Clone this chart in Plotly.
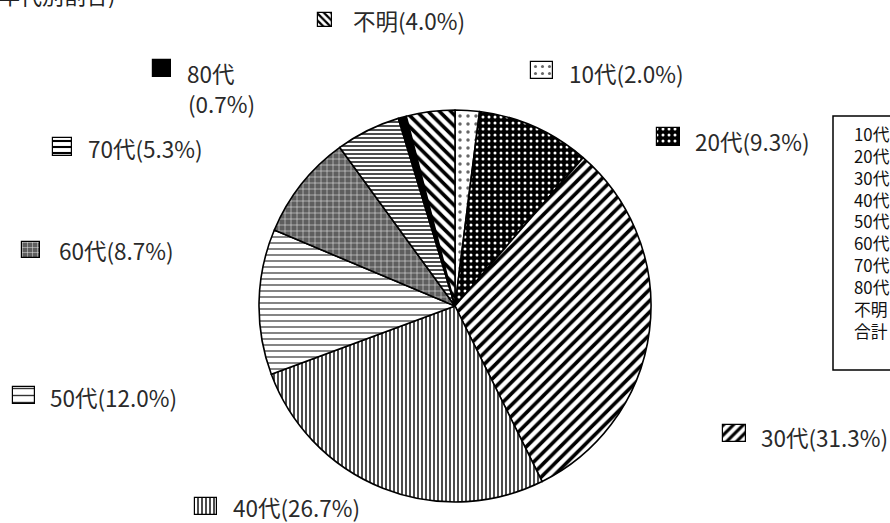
import plotly.graph_objects as go

W, H = 890, 523

# ---- data ----
categories = ["10代", "20代", "30代", "40代", "50代", "60代", "70代", "80代", "不明"]
counts = [3, 14, 47, 40, 18, 13, 8, 1, 6]
total = sum(counts)
percents = [c / total * 100 for c in counts]
table_rows = ["10代", "20代", "30代", "40代", "50代", "60代", "70代", "80代", "不明", "合計"]
title_text = "年代別割合)"

# ---- styles (per slice) ----
pat_shape = [".", ".", "/", "|", "-", "+", "-", "", "\\"]
pat_bg = ["white", "black", "white", "white", "white", "#5e5e5e", "white", "black", "white"]
pat_fg = ["#666666", "white", "black", "black", "#333333", "#e8e8e8", "black", "black", "black"]
pat_size = [8, 6, 8, 4, 6, 6, 4, 8, 8]
pat_sol = [0.15, 0.2, 0.45, 0.35, 0.2, 0.18, 0.35, 0.3, 0.45]
key_pat_size = [7, 6, 7, 4, 7, 5, 6, 6, 5]

# label layout (pixel positions): key box left, top, width, height; text x, text y
key_x = [531, 657, 723, 195, 13, 22, 53, 153, 318]
key_y = [62, 128, 425, 498, 387, 242, 138, 60, 13]
key_w = [22, 23, 23, 22, 22, 18, 19, 18, 14]
key_h = [17, 18, 17, 17, 17, 16, 18, 17, 14]
txt_x = [567, 693, 759, 231, 48, 57, 86, 185, 351]
txt_y = [73, 141, 437, 507, 397, 250, 148, 73, 20]

FONT = "Noto Sans CJK JP"
FS = 22.5


def px(x):
    return x / W


def py(y):
    return 1 - y / H


fig = go.Figure()

fig.add_trace(go.Pie(
    labels=categories,
    values=counts,
    sort=False,
    direction="clockwise",
    rotation=0,
    textinfo="none",
    hoverinfo="label+percent",
    showlegend=False,
    domain=dict(x=[px(259), px(651)], y=[py(502), py(110)]),
    marker=dict(
        colors=pat_bg,
        line=dict(color="black", width=1.6),
        pattern=dict(shape=pat_shape, bgcolor=pat_bg, fgcolor=pat_fg,
                     size=pat_size, solidity=pat_sol, fillmode="replace"),
    ),
))

# legend keys next to each data label (one small patterned bar each)
for i in range(len(categories)):
    fig.add_trace(go.Bar(
        x=[key_x[i] + key_w[i] / 2],
        y=[key_h[i]],
        base=[key_y[i]],
        width=[key_w[i]],
        showlegend=False,
        hoverinfo="skip",
        marker=dict(
            color=pat_bg[i],
            line=dict(color="black", width=1.2),
            pattern=dict(shape=pat_shape[i], bgcolor=pat_bg[i], fgcolor=pat_fg[i],
                         size=key_pat_size[i], solidity=pat_sol[i], fillmode="replace"),
        ),
        xaxis="x", yaxis="y",
    ))

annotations = []
for i, cat in enumerate(categories):
    if cat == "80代":
        annotations.append(dict(x=px(txt_x[i]), y=py(txt_y[i]), xref="paper", yref="paper",
                                text=cat, showarrow=False, xanchor="left", yanchor="middle",
                                font=dict(family=FONT, size=FS, color="#2a2a2a")))
        annotations.append(dict(x=px(txt_x[i] + 1), y=py(txt_y[i] + 30), xref="paper", yref="paper",
                                text=f"({percents[i]:.1f}%)", showarrow=False, xanchor="left",
                                yanchor="middle", font=dict(family=FONT, size=FS, color="#2a2a2a")))
    else:
        annotations.append(dict(x=px(txt_x[i]), y=py(txt_y[i]), xref="paper", yref="paper",
                                text=f"{cat}({percents[i]:.1f}%)", showarrow=False,
                                xanchor="left", yanchor="middle",
                                font=dict(family=FONT, size=FS, color="#2a2a2a")))

# partially visible title at the top-left
annotations.append(dict(x=px(-4), y=py(-6), xref="paper", yref="paper", text=title_text,
                        showarrow=False, xanchor="left", yanchor="middle",
                        font=dict(family=FONT, size=22, color="#222")))

# side table (cut by the right edge) as one multi-line text
annotations.append(dict(x=px(852), y=py(120), xref="paper", yref="paper",
                        text="<br>".join(table_rows), showarrow=False,
                        xanchor="left", yanchor="top", align="left",
                        font=dict(family=FONT, size=16.8, color="#111")))

shapes = [dict(type="rect", xref="paper", yref="paper",
               x0=px(833), x1=px(905), y0=py(370), y1=py(116),
               line=dict(color="black", width=1.5), fillcolor="rgba(0,0,0,0)")]

fig.update_layout(
    width=W, height=H,
    margin=dict(l=0, r=0, t=0, b=0),
    paper_bgcolor="white", plot_bgcolor="rgba(0,0,0,0)",
    xaxis=dict(range=[0, W], visible=False, fixedrange=True),
    yaxis=dict(range=[H, 0], visible=False, fixedrange=True),
    annotations=annotations,
    shapes=shapes,
    bargap=0,
    barmode="overlay",
)

fig.write_html(
    "out.html",
    config={"displayModeBar": False},
    post_script="document.body.style.margin='0';document.body.style.overflow='hidden';",
)
